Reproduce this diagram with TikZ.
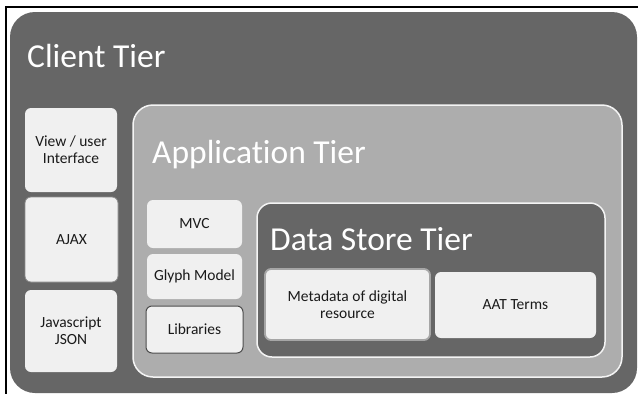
\documentclass[tikz,border=0pt]{standalone}
\usepackage{fontspec}
\setmainfont[Ligatures=NoCommon]{Carlito}
\begin{document}
\begin{tikzpicture}[x=1pt,y=-1pt,
  tier/.style={rounded corners=#1, inner sep=0pt, outer sep=0pt},
  dark/.style={fill=tierdark},
  item/.style={rounded corners=6pt, fill=boxfill, inner sep=1pt, outer sep=0pt,
    align=center, font=\fontsize{15.5}{17}\selectfont, text=boxtext},
  title/.style={anchor=base west, inner sep=0pt, text=white, font=\fontsize{33.5}{36}\selectfont}]
\definecolor{tierdark}{HTML}{666666}
\definecolor{tiermid}{HTML}{ADADAD}
\definecolor{boxfill}{HTML}{F0F0F0}
\definecolor{boxtext}{HTML}{1A1A1A}
\definecolor{rimlight}{HTML}{F4F4F4}
\useasboundingbox (0,0) rectangle (638,394);
\fill[white] (0,0) rectangle (638,394);
% black frame lines
\coordinate (ftl) at (6,7);
\coordinate (ftr) at (638,7);
\coordinate (fbl) at (6,394);
\draw[black, line width=2.2pt] (ftr) -- (ftl) -- (fbl);
% tiers
\node[tier=25pt, dark, minimum width=627pt, minimum height=381pt] (client) at (323.5,202.5) {};
\node[tier=20pt, fill=tiermid, draw=rimlight, line width=1.5pt, minimum width=489pt, minimum height=272pt] (app) at (377.5,241) {};
\node[tier=15pt, dark, draw=rimlight, line width=1.5pt, minimum width=348pt, minimum height=154pt] (data) at (431,280) {};
% titles
\node[title] (clientT) at (27,67) {Client Tier};
\node[title] (appT) at (152,163) {Application Tier};
\node[title] (dataT) at (270,250) {Data Store Tier};
% client items
\node[item, minimum width=92pt, minimum height=84pt] (view) at (71,150) {View / user\\Interface};
\node[item, draw=black!45, line width=0.8pt, minimum width=93pt, minimum height=85pt] (ajax) at (71.5,239.5) {AJAX};
\node[item, minimum width=92pt, minimum height=82pt] (js) at (71,331) {Javascript\\JSON};
% application items
\node[item, minimum width=95pt, minimum height=48pt] (mvc) at (194.5,224) {MVC};
\node[item, minimum width=95pt, minimum height=45pt] (glyph) at (194.5,276.5) {Glyph Model};
\node[item, draw=black!70, line width=1pt, minimum width=97pt, minimum height=47pt] (lib) at (194.5,329.5) {Libraries};
% data items
\node[item, draw=black!35, line width=1.8pt, minimum width=165pt, minimum height=71pt] (meta) at (347.5,304.5) {Metadata of digital\\resource};
\node[item, minimum width=161pt, minimum height=66pt] (aat) at (515.5,305) {AAT Terms};
\end{tikzpicture}
\end{document}
